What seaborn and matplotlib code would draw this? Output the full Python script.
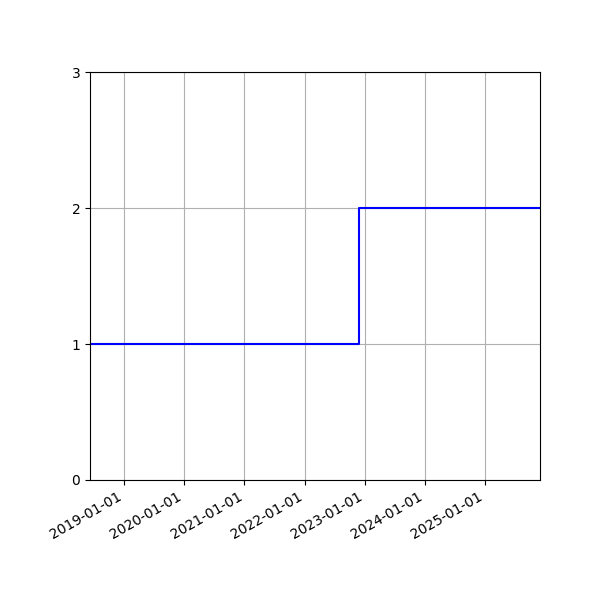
import matplotlib
matplotlib.use("Agg")
import matplotlib.pyplot as plt
import matplotlib.dates as mdates
import pandas as pd
import seaborn as sns

dates = ["2018-06-08", "2022-11-26", "2025-12-01"]
values = [1, 2, 2]

df = pd.DataFrame({"date": pd.to_datetime(dates), "value": values})

fig, ax = plt.subplots(figsize=(6, 6), dpi=100)
fig.subplots_adjust(left=0.15, right=0.9, top=0.88, bottom=0.2)
sns.lineplot(data=df, x="date", y="value", ax=ax, color="blue",
             drawstyle="steps-post", linewidth=1.5)
ax.set_xlim(df["date"].min(), df["date"].max())
ax.set_ylim(0, 3)
ax.set_yticks([0, 1, 2, 3])
ax.xaxis.set_major_locator(mdates.YearLocator())
ax.xaxis.set_major_formatter(mdates.DateFormatter("%Y-%m-%d"))
ax.set_xlabel("")
ax.set_ylabel("")
ax.grid(True)
for lbl in ax.get_xticklabels():
    lbl.set_rotation(30)
    lbl.set_ha("right")
fig.savefig("out.png", dpi=100)
